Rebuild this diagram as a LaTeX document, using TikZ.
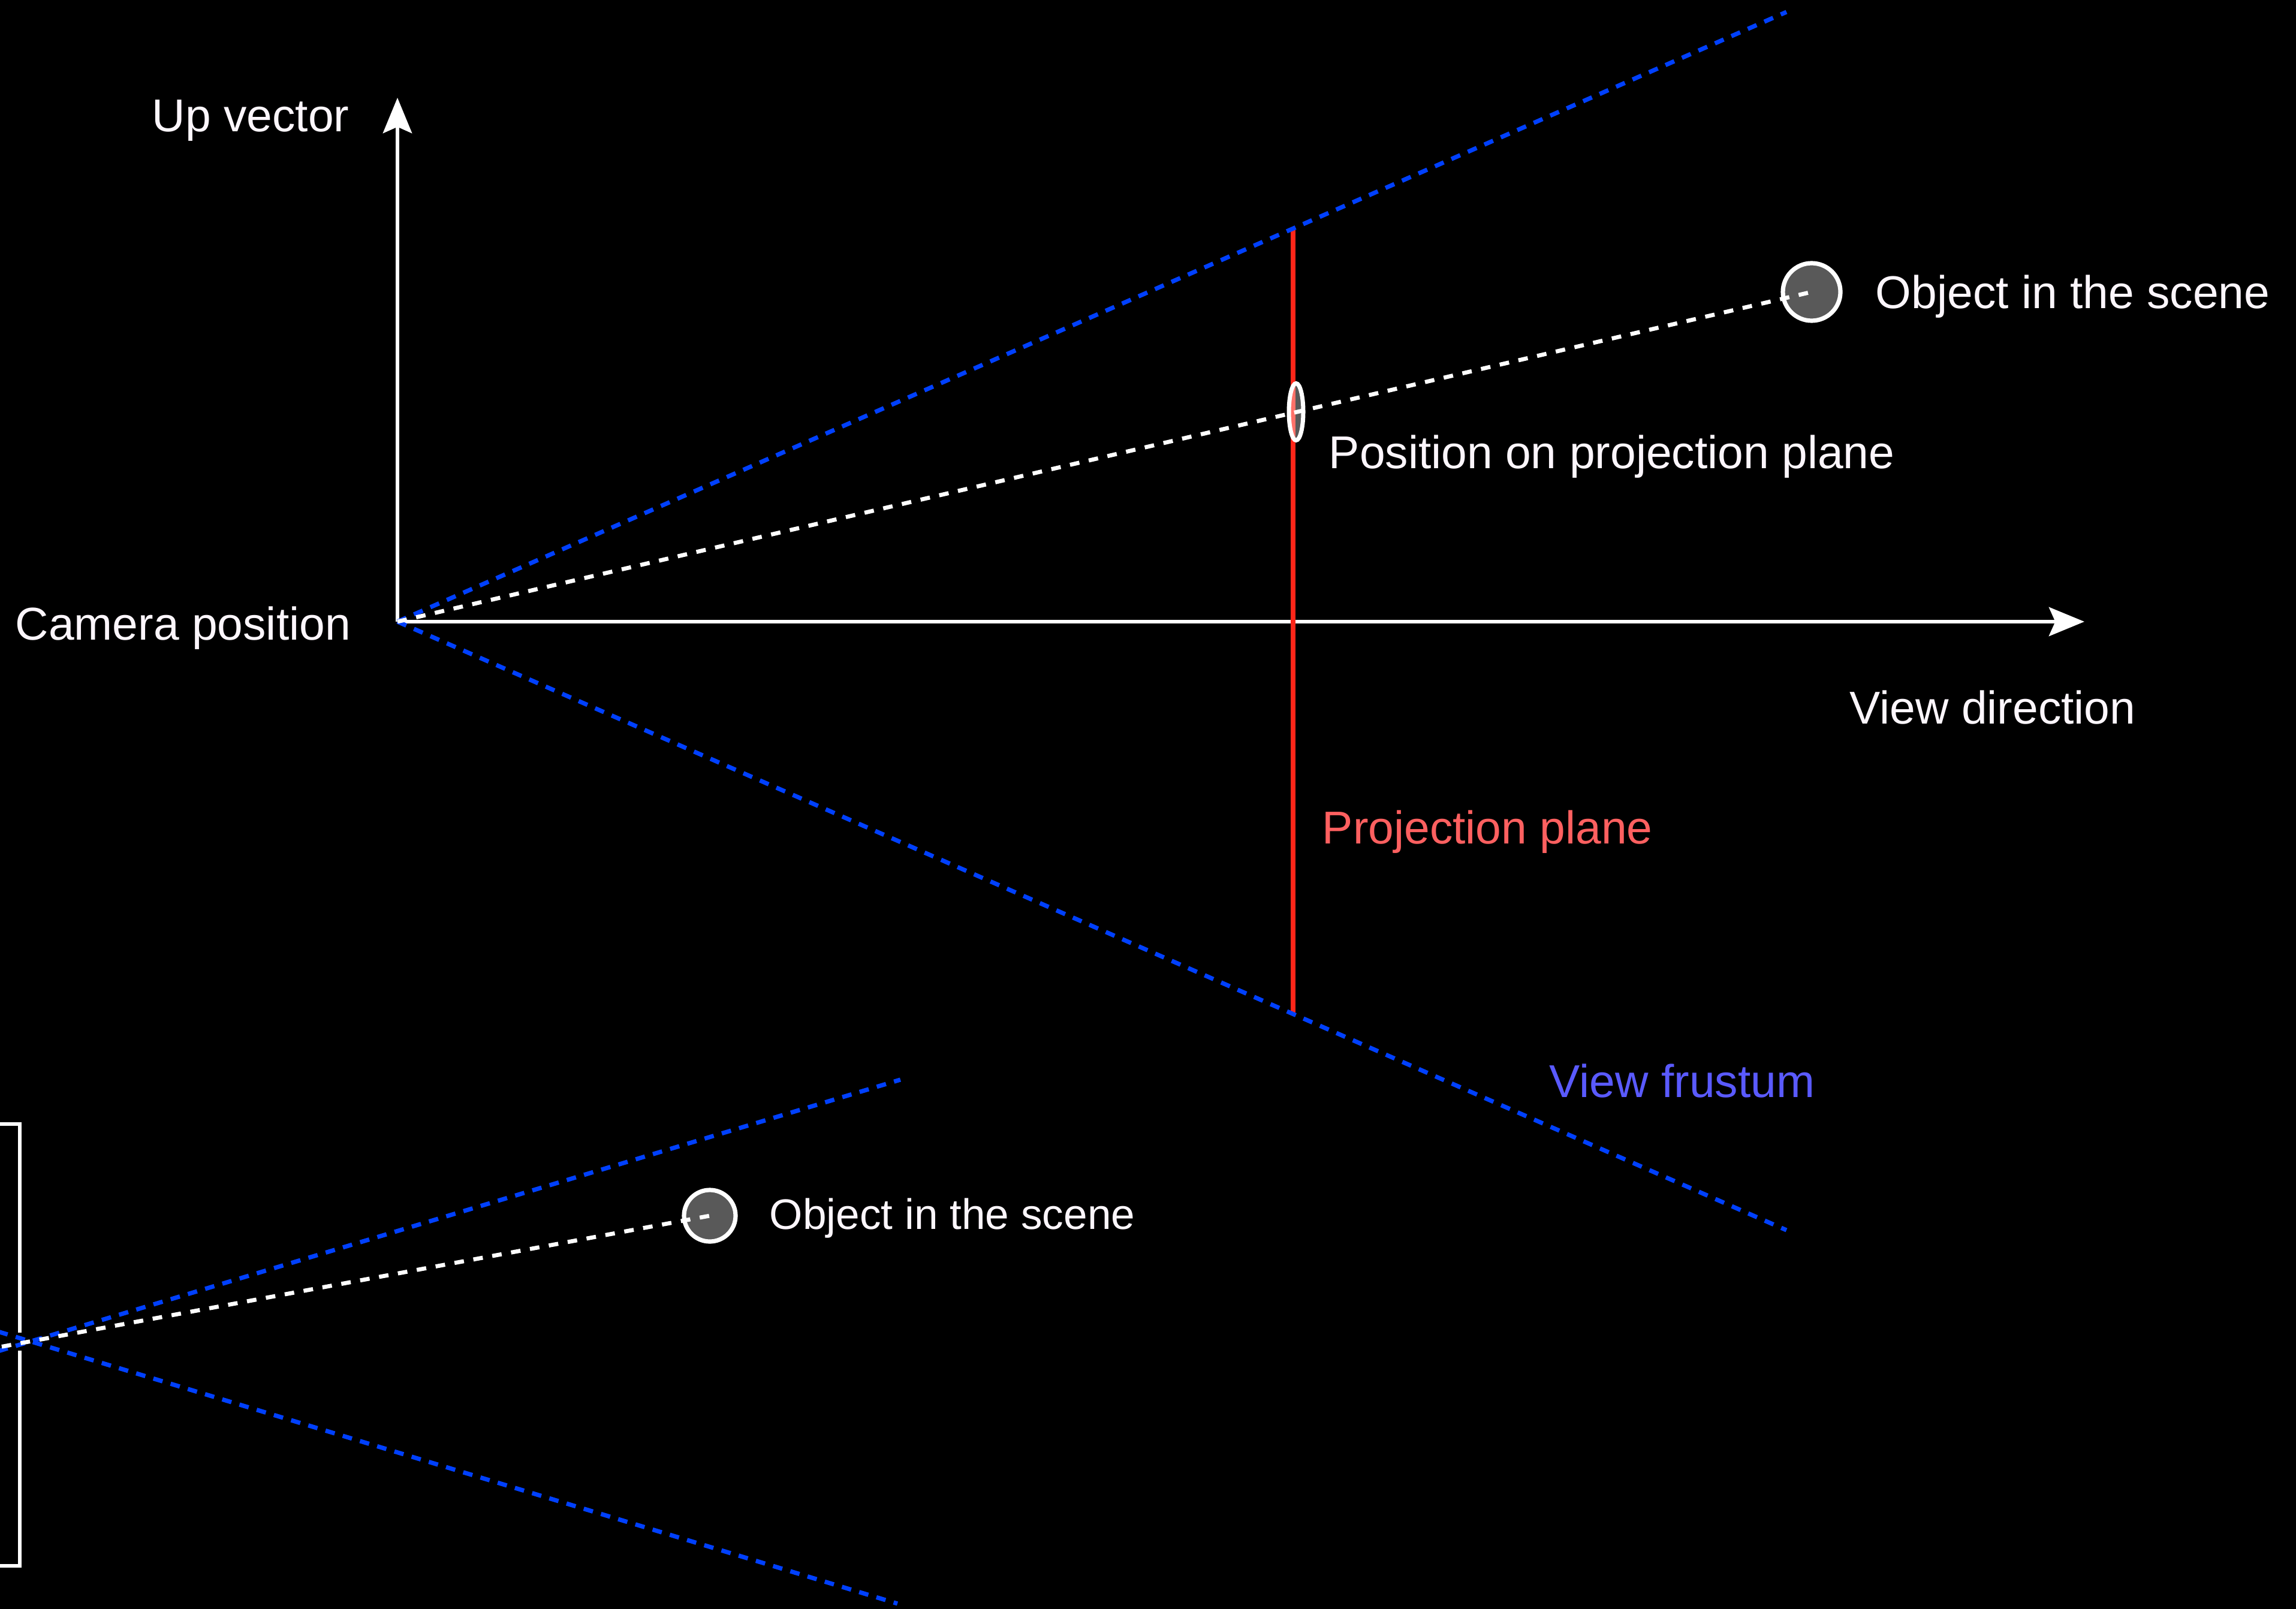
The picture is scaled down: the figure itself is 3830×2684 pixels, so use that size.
\documentclass[tikz,border=0pt]{standalone}
\usepackage{fontspec}
\setmainfont{Liberation Sans}
\usetikzlibrary{arrows.meta,shapes.geometric}
\definecolor{fblue}{RGB}{0,64,255}
\definecolor{pred}{RGB}{255,38,25}
\definecolor{ptext}{RGB}{255,96,96}
\definecolor{btext}{RGB}{90,90,255}
\definecolor{objgray}{RGB}{89,89,89}
\definecolor{lblwhite}{RGB}{252,246,252}
\tikzset{
  axisarrow/.style={draw=white, line width=1.7pt, -{Stealth[length=14.75pt,width=12pt,inset=2.6pt]}},
  frustum/.style={draw=fblue, line width=1.8pt, dash pattern=on 4pt off 3.5pt},
  ray/.style={draw=white, line width=1.7pt, dash pattern=on 4pt off 4pt},
  planeline/.style={draw=pred, line width=2.05pt},
  bracketline/.style={draw=white, line width=1.7pt},
  objnode/.style={circle, draw=white, line width=1.8pt, fill=objgray, inner sep=0pt},
  projmark/.style={ellipse, draw=white, line width=1.75pt, fill=white, fill opacity=0.35, inner sep=0pt, minimum width=6pt, minimum height=23.75pt},
  lbl/.style={text=lblwhite, anchor=base west, inner sep=0pt, font=\fontsize{19.2}{23}\selectfont},
  lblsmall/.style={lbl, font=\fontsize{17.8}{21}\selectfont},
}
\begin{document}
\begin{tikzpicture}[x=0.25pt,y=-0.25pt]
\fill[black] (0,0) rectangle (3830,2684);
\useasboundingbox (0,0) rectangle (3830,2684);
\clip (0,0) rectangle (3830,2684);

% ---------- upper diagram ----------
\coordinate (cam) at (663,1037);
\coordinate (up) at (663,163);
\coordinate (dir) at (3477,1037);
\coordinate (fu) at (2980,20);
\coordinate (fd) at (2980,2052);
\coordinate (pt) at (2157,381);
\coordinate (pb) at (2157,1691);

\draw[axisarrow] (cam) -- (up);
\draw[axisarrow] (cam) -- (dir);
\draw[planeline] (pt) -- (pb);

\node[projmark] (pp) at (2162,687) {};
\node[objnode, minimum size=24pt] (obj1) at (3022,487) {};

\draw[frustum] (cam) -- (fu);
\draw[frustum] (cam) -- (fd);
\draw[ray] (cam) -- (obj1.center);

\node[lbl] (lup) at (253,220) {Up vector};
\node[lbl] (lcam) at (25,1067) {Camera position};
\node[lbl] (ldir) at (3085,1207) {View direction};
\node[lbl, text=ptext] (lplane) at (2205,1407) {Projection plane};
\node[lbl] (lpos) at (2216,782) {Position on projection plane};
\node[lbl] (lobj1) at (3128,515) {Object in the scene};
\node[lbl, text=btext] (lfr) at (2584,1830) {View frustum};

% ---------- lower diagram ----------
\draw[bracketline] (-10,1875) -- (33,1875) -- (33,2223);
\draw[bracketline] (33,2253) -- (33,2612) -- (-10,2612);

\coordinate (ls1) at (-60,2271);
\coordinate (ls2) at (-60,2204);
\coordinate (ls3) at (-60,2258);
\coordinate (lu) at (1502,1801);
\coordinate (ld) at (1497,2675);

\node[objnode, minimum size=21.5pt] (obj2) at (1184,2028) {};

\draw[frustum] (ls1) -- (lu);
\draw[frustum] (ls2) -- (ld);
\draw[ray] (ls3) -- (obj2.center);

\node[lblsmall] (lobj2) at (1283,2050) {Object in the scene};
\end{tikzpicture}
\end{document}
